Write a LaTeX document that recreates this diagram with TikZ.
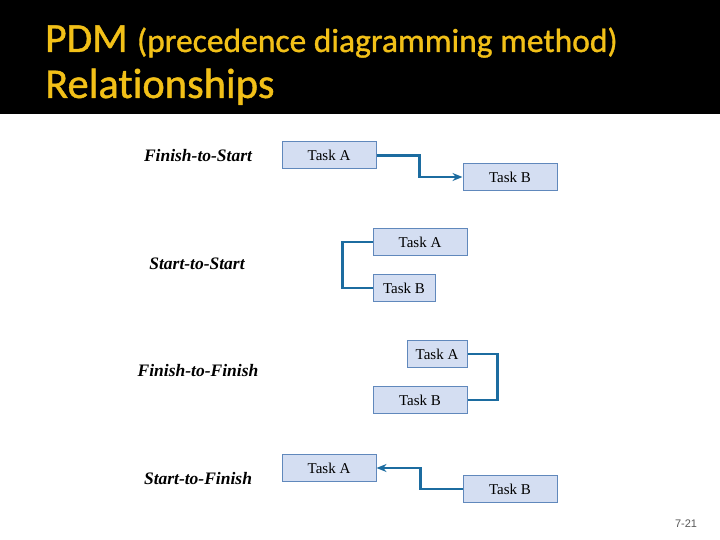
\documentclass[tikz,border=0pt]{standalone}
\usepackage{fontspec}
\setmainfont{Liberation Serif}
\newfontfamily\titlefont[Ligatures=NoCommon,FakeBold=1]{Carlito}
\newfontfamily\numfont{Liberation Sans}
\usetikzlibrary{arrows.meta}
\definecolor{titleyellow}{RGB}{242,192,24}
\definecolor{boxfill}{RGB}{212,222,242}
\definecolor{boxline}{RGB}{96,136,188}
\definecolor{connblue}{RGB}{28,108,160}
\begin{document}
\begin{tikzpicture}[x=1pt,y=-1pt,
  taskbox/.style={draw=boxline,fill=boxfill,line width=1pt,minimum height=27pt,inner sep=0pt,
    font=\fontsize{15}{17}\selectfont},
  conn/.style={draw=connblue,line width=2.2pt},
  rellabel/.style={font=\fontsize{17.5}{20}\selectfont\bfseries\itshape,anchor=center},
  tip/.style={-{Stealth[length=10pt,width=8pt]}}]
\useasboundingbox (0,0) rectangle (720,540);
\fill[white] (0,0) rectangle (720,540);
\fill[black] (0,0) rectangle (720,114);
\node[anchor=base west,inner sep=0pt,text=titleyellow] (title1) at (45,52)
  {\titlefont\fontsize{41.5}{44}\selectfont PDM \fontsize{33.5}{36}\selectfont(precedence diagramming method)};
\node[anchor=base west,inner sep=0pt,text=titleyellow] (title2) at (45,98)
  {\titlefont\fontsize{42.5}{45}\selectfont Relationships};
% Finish-to-Start
\node[rellabel] (lfs) at (198,156) {Finish-to-Start};
\node[taskbox,minimum width=94pt] (fsA) at (329,155.5) {Task A};
\node[taskbox,minimum width=94pt] (fsB) at (510,177) {Task B};
\draw[conn,tip] (fsA.east) -- ++(43,0) |- (fsB.west);
% Start-to-Start
\node[rellabel] (lss) at (197,264) {Start-to-Start};
\node[taskbox,minimum width=94pt] (ssA) at (420,242) {Task A};
\node[taskbox,minimum width=62pt] (ssB) at (404,288) {Task B};
\draw[conn] (ssA.west) -- ++(-30,0) |- (ssB.west);
% Finish-to-Finish
\node[rellabel] (lff) at (198,371) {Finish-to-Finish};
\node[taskbox,minimum width=60pt] (ffA) at (437,354) {Task A};
\node[taskbox,minimum width=94pt] (ffB) at (420,400) {Task B};
\draw[conn] (ffA.east) -- ++(30,0) |- (ffB.east);
% Start-to-Finish
\node[rellabel] (lsf) at (198,479) {Start-to-Finish};
\node[taskbox,minimum width=94pt] (sfA) at (329,468) {Task A};
\node[taskbox,minimum width=94pt] (sfB) at (510,489) {Task B};
\draw[conn,tip] (sfB.west) -- ++(-42,0) |- (sfA.east);
% page number
\node[text=black!65,font=\numfont\fontsize{11}{13}\selectfont] (pg) at (686,524) {7-21};
\end{tikzpicture}
\end{document}
